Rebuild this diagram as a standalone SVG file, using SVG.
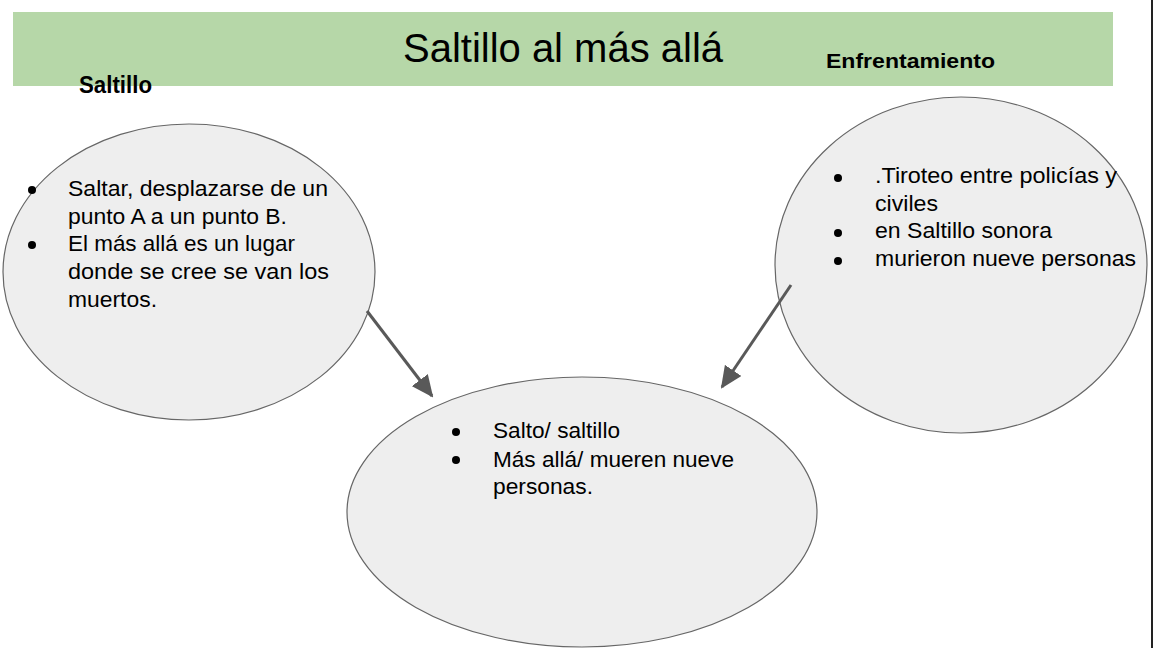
<svg xmlns="http://www.w3.org/2000/svg" width="1157" height="648" viewBox="0 0 1157 648">
<defs>
<style>
.node ellipse{fill:#eeeeee;stroke:#666666;stroke-width:1.2}
.t{font-family:"Liberation Sans",Arial,sans-serif;font-size:22px;fill:#000}
.h{font-family:"Liberation Sans",Arial,sans-serif;font-weight:bold;fill:#000}
.b{fill:#000}
.conn line{stroke:#595959;stroke-width:3;fill:none}
</style>
<marker id="arr" markerUnits="userSpaceOnUse" markerWidth="22" markerHeight="20" refX="20" refY="10" orient="auto">
<path d="M0,0 L22,10 L0,20 z" fill="#595959"/>
</marker>
</defs>
<rect width="1157" height="648" fill="#ffffff"/>
<g id="banner">
<rect x="13" y="12" width="1100" height="74" fill="#b6d7a8"/>
<text x="403" y="62" font-family="'Liberation Sans',Arial,sans-serif" font-size="40" textLength="320" lengthAdjust="spacingAndGlyphs">Saltillo al más allá</text>
</g>
<line x1="1152" y1="0" x2="1152" y2="648" stroke="#222" stroke-width="2"/>
<g id="label-saltillo"><text class="h" x="79" y="93" font-size="24" textLength="73" lengthAdjust="spacingAndGlyphs">Saltillo</text></g>
<g id="label-enfrentamiento"><text class="h" x="826" y="68" font-size="21" textLength="169" lengthAdjust="spacingAndGlyphs">Enfrentamiento</text></g>
<g id="node-saltillo" class="node">
<ellipse cx="189" cy="272" rx="186" ry="148"/>
<circle class="b" cx="32" cy="190" r="4"/>
<circle class="b" cx="32" cy="245" r="4"/>
<text class="t" x="68" y="196" textLength="260" lengthAdjust="spacingAndGlyphs">Saltar, desplazarse de un</text>
<text class="t" x="68" y="224" textLength="219" lengthAdjust="spacingAndGlyphs">punto A a un punto B.</text>
<text class="t" x="68" y="251" textLength="227" lengthAdjust="spacingAndGlyphs">El más allá es un lugar</text>
<text class="t" x="68" y="279" textLength="261" lengthAdjust="spacingAndGlyphs">donde se cree se van los</text>
<text class="t" x="68" y="307" textLength="89" lengthAdjust="spacingAndGlyphs">muertos.</text>
</g>
<g id="node-enfrentamiento" class="node">
<ellipse cx="961" cy="265" rx="186" ry="168"/>
<circle class="b" cx="838" cy="178" r="4"/>
<circle class="b" cx="838" cy="233" r="4"/>
<circle class="b" cx="838" cy="261" r="4"/>
<text class="t" x="875" y="183" textLength="242" lengthAdjust="spacingAndGlyphs">.Tiroteo entre policías y</text>
<text class="t" x="875" y="211" textLength="63" lengthAdjust="spacingAndGlyphs">civiles</text>
<text class="t" x="875" y="238" textLength="177" lengthAdjust="spacingAndGlyphs">en Saltillo sonora</text>
<text class="t" x="875" y="266" textLength="261" lengthAdjust="spacingAndGlyphs">murieron nueve personas</text>
</g>
<g id="node-resultado" class="node">
<ellipse cx="582" cy="512" rx="235" ry="135"/>
<circle class="b" cx="456" cy="432" r="4"/>
<circle class="b" cx="456" cy="460" r="4"/>
<text class="t" x="493" y="438" textLength="127" lengthAdjust="spacingAndGlyphs">Salto/ saltillo</text>
<text class="t" x="493" y="467" textLength="241" lengthAdjust="spacingAndGlyphs">Más allá/ mueren nueve</text>
<text class="t" x="493" y="494" textLength="100" lengthAdjust="spacingAndGlyphs">personas.</text>
</g>
<g id="connectors" class="conn">
<line x1="367" y1="311" x2="432" y2="396" marker-end="url(#arr)"/>
<line x1="791" y1="285" x2="722" y2="387" marker-end="url(#arr)"/>
</g>
</svg>
